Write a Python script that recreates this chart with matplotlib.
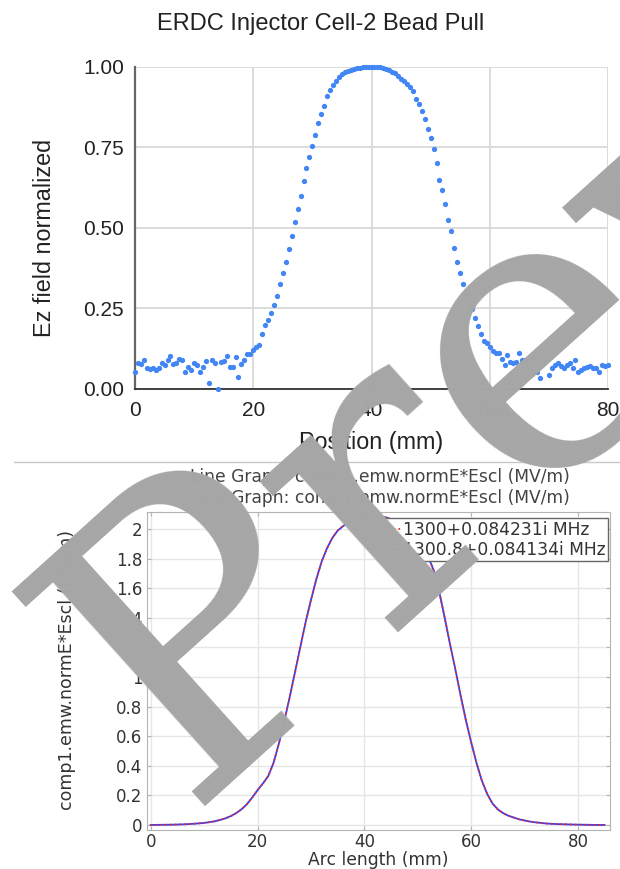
import numpy as np
import matplotlib.pyplot as plt
from matplotlib.lines import Line2D

# ---------------- data ----------------
# bead pull, sampled every 0.5 mm from 0 to 80 mm
pos_mm = np.arange(0, 80.5, 0.5)
ez_norm = [
    0.054, 0.082, 0.077, 0.090, 0.066, 0.061, 0.066, 0.059, 0.066, 0.082,   # 0 - 4.5
    0.075, 0.090, 0.102, 0.077, 0.082, 0.092, 0.090, 0.054, 0.069, 0.059,   # 5 - 9.5
    0.080, 0.075, 0.054, 0.069, 0.087, 0.020, 0.090, 0.082, 0.000, 0.085,   # 10 - 14.5
    0.087, 0.102, 0.067, 0.069, 0.098, 0.038, 0.078, 0.090, 0.109, 0.109,   # 15 - 19.5
    0.121, 0.130, 0.137, 0.170, 0.200, 0.215, 0.235, 0.260, 0.290, 0.325,   # 20 - 24.5
    0.360, 0.395, 0.435, 0.475, 0.520, 0.560, 0.600, 0.645, 0.685, 0.720,   # 25 - 29.5
    0.755, 0.790, 0.825, 0.855, 0.880, 0.910, 0.930, 0.945, 0.957, 0.968,   # 30 - 34.5
    0.977, 0.984, 0.988, 0.992, 0.995, 0.997, 0.998, 0.999, 1.000, 1.000,   # 35 - 39.5
    1.000, 1.000, 1.000, 0.999, 0.997, 0.994, 0.990, 0.986, 0.981, 0.973,   # 40 - 44.5
    0.964, 0.955, 0.946, 0.937, 0.924, 0.900, 0.885, 0.862, 0.837, 0.808,   # 45 - 49.5
    0.780, 0.745, 0.702, 0.650, 0.617, 0.573, 0.526, 0.490, 0.438, 0.395,   # 50 - 54.5
    0.360, 0.325, 0.295, 0.265, 0.248, 0.222, 0.195, 0.170, 0.150, 0.143,   # 55 - 59.5
    0.130, 0.118, 0.112, 0.113, 0.092, 0.073, 0.106, 0.085, 0.080, 0.085,   # 60 - 64.5
    0.111, 0.090, 0.090, 0.064, 0.095, 0.090, 0.054, 0.033, 0.085, 0.095,   # 65 - 69.5
    0.044, 0.064, 0.075, 0.080, 0.070, 0.064, 0.075, 0.080, 0.064, 0.090,   # 70 - 74.5
    0.054, 0.059, 0.064, 0.067, 0.070, 0.064, 0.064, 0.054, 0.075, 0.070,   # 75 - 79.5
    0.075,                                                                  # 80
]

# COMSOL line graph (arc length, field in MV/m)
arc_mm = [0, 2, 4, 6, 8, 10, 11, 12, 13, 14, 15, 16, 17, 18, 19, 20, 21, 22,
          23, 24, 25, 26, 27, 28, 29, 30, 31, 32, 33, 34, 35, 36, 37, 38, 39,
          40, 41, 42, 43, 44, 45, 46, 47, 48, 49, 50, 51, 52, 53, 54, 55, 56,
          57, 58, 59, 60, 61, 62, 63, 64, 65, 66, 67, 68, 69, 70, 71, 72, 74,
          76, 78, 80, 82, 84, 85]
e_1300 = [0.0, 0.001, 0.002, 0.004, 0.008, 0.014, 0.019, 0.025, 0.034, 0.045,
          0.06, 0.08, 0.106, 0.14, 0.185, 0.235, 0.28, 0.33, 0.42, 0.55, 0.7,
          0.86, 1.03, 1.2, 1.37, 1.52, 1.66, 1.78, 1.87, 1.94, 1.99, 2.02,
          2.045, 2.06, 2.072, 2.08, 2.084, 2.085, 2.084, 2.08, 2.068, 2.05,
          2.02, 1.98, 1.945, 1.905, 1.865, 1.81, 1.72, 1.58, 1.41, 1.23, 1.06,
          0.88, 0.71, 0.56, 0.42, 0.30, 0.21, 0.145, 0.105, 0.08, 0.062, 0.05,
          0.038, 0.03, 0.023, 0.018, 0.01, 0.006, 0.004, 0.002, 0.001, 0.0, 0.0]
e_1300_8 = [0.0, 0.001, 0.002, 0.004, 0.008, 0.014, 0.019, 0.025, 0.034, 0.045,
            0.06, 0.08, 0.106, 0.14, 0.185, 0.235, 0.28, 0.33, 0.42, 0.55, 0.7,
            0.86, 1.03, 1.2, 1.37, 1.52, 1.66, 1.78, 1.87, 1.94, 1.99, 2.02,
            2.045, 2.06, 2.072, 2.08, 2.084, 2.085, 2.084, 2.08, 2.068, 2.05,
            2.02, 1.98, 1.945, 1.905, 1.865, 1.81, 1.72, 1.58, 1.41, 1.23, 1.06,
            0.88, 0.71, 0.56, 0.42, 0.30, 0.21, 0.145, 0.105, 0.08, 0.062, 0.05,
            0.038, 0.03, 0.023, 0.018, 0.01, 0.006, 0.004, 0.002, 0.001, 0.0, 0.0]
labels = ['1300+0.084231i MHz', '1300.8+0.084134i MHz']

W, H = 620, 869
fig = plt.figure(figsize=(W / 100, H / 100), dpi=100)

# ---------------- top: bead pull ----------------
sans = 'Liberation Sans'
ax1 = fig.add_axes([135 / W, 1 - 389 / H, 473 / W, 322 / H])
ax1.plot(pos_mm, ez_norm, 'o', ms=3.8, mec='none', color='#4285f4', clip_on=False, zorder=3)
ax1.set_xlim(0, 80)
ax1.set_ylim(0, 1)
ax1.set_xticks([0, 20, 40, 60, 80])
ax1.set_yticks([0, 0.25, 0.5, 0.75, 1.0])
ax1.set_yticklabels(['0.00', '0.25', '0.50', '0.75', '1.00'])
ax1.grid(color='#d9d9d9', lw=1.3)
ax1.set_axisbelow(True)
for s in ['top', 'right']:
    ax1.spines[s].set_visible(False)
ax1.spines['left'].set_color('#666666')
ax1.spines['left'].set_linewidth(1.6)
ax1.spines['bottom'].set_color('#333333')
ax1.spines['bottom'].set_linewidth(1.3)
ax1.tick_params(axis='both', length=0, labelsize=15, colors='#222222')
ax1.tick_params(axis='y', pad=8)
ax1.tick_params(axis='x', pad=9)
for t in ax1.get_xticklabels() + ax1.get_yticklabels():
    t.set_family(sans)
fig.text(321 / W, 1 - 24 / H, 'ERDC Injector Cell-2 Bead Pull', ha='center', va='center',
         fontsize=17, family=sans, color='#222222')
fig.text(45 / W, 1 - 238 / H, 'Ez field normalized', ha='center', va='center', rotation=90,
         fontsize=16.8, family=sans, color='#222222')
fig.text(371 / W, 1 - 443 / H, 'Position (mm)', ha='center', va='center',
         fontsize=16.8, family=sans, color='#222222')

# separator
fig.add_artist(Line2D([14 / W, 1], [1 - 462 / H] * 2, color='#c8c8c8', lw=1))

# ---------------- bottom: COMSOL line graph ----------------
ax2 = fig.add_axes([146.7 / W, 1 - 830 / H, (610 - 146.7) / W, (830 - 511.7) / H])
ax2.plot(arc_mm, e_1300_8, '-', color='#3b3bf0', lw=1.3, label=labels[1], zorder=2)
ax2.plot(arc_mm, e_1300, ':', color='#e03030', lw=1.3, label=labels[0], zorder=3)
ax2.set_xlim(-0.75, 86)
ax2.set_ylim(-0.034, 2.118)
ax2.set_xticks([0, 20, 40, 60, 80])
ax2.set_yticks(np.arange(0, 2.01, 0.2))
ax2.set_yticklabels(['%g' % round(v, 1) for v in np.arange(0, 2.01, 0.2)])
ax2.grid(color='#e6e6e6', lw=1)
ax2.set_axisbelow(True)
for s in ax2.spines.values():
    s.set_color('#b4b4b4')
ax2.tick_params(axis='both', direction='in', length=3, color='#b4b4b4',
                labelsize=12, labelcolor='#333333', top=True, right=True)
ax2.tick_params(axis='x', pad=2.5)
ax2.tick_params(axis='y', pad=3)
fig.text(378 / W, 1 - 860 / H, 'Arc length (mm)', ha='center', va='center',
         fontsize=12.3, color='#333333')
fig.text(67 / W, 1 - 670 / H, 'comp1.emw.normE*Escl (MV/m)', ha='center', va='center',
         rotation=90, fontsize=12.5, color='#333333')
h, l = ax2.get_legend_handles_labels()
leg = ax2.legend(h[::-1], l[::-1], loc='upper right', bbox_to_anchor=(608 / W, 1 - 518 / H),
                 bbox_transform=fig.transFigure, fontsize=12.3, frameon=True, fancybox=False,
                 framealpha=1, edgecolor='#666666', borderaxespad=0, borderpad=0.15,
                 handlelength=1.0, handletextpad=0.1, labelspacing=0.12)
leg.get_frame().set_linewidth(1)
for t in leg.get_texts():
    t.set_color('#333333')
for line_txt_y in [476.7, 497.7]:
    fig.text(380 / W, 1 - line_txt_y / H, 'Line Graph: comp1.emw.normE*Escl (MV/m)',
             ha='center', va='center', fontsize=12.3, color='#444444')

# watermark
fig.text(183 / W, 1 - 807 / H, 'Preview', rotation=42, rotation_mode='anchor',
         ha='left', va='baseline', fontsize=285, family='DejaVu Serif', color='#a6a6a6')

fig.savefig('out.png', dpi=100)
